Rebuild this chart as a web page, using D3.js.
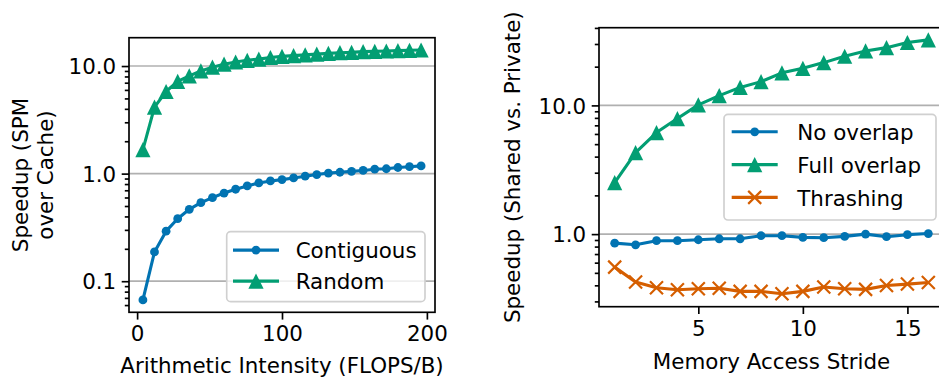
<!DOCTYPE html>
<html lang="en">

<head>
    <meta charset="UTF-8">
    <script src="https://cdn.jsdelivr.net/npm/d3@7"></script>
    <title>Speedup</title>
    <style>
        body {
            margin: 0px;
            background: #fff;
        }

        svg text {
            font-family: "DejaVu Sans", sans-serif;
            font-size: 21.4px;
            fill: #000;
        }
    </style>
</head>

<body>
    <svg id="chart" width="939" height="379"></svg>
    <script>
        // left panel: speedup vs arithmetic intensity
        const intensity = [4, 12, 20, 28, 36, 44, 52, 60, 68, 76, 84, 92, 100, 108, 116, 124, 132, 140, 148, 156, 164, 172, 180, 188, 196];
        const contiguous = [0.067, 0.187, 0.292, 0.381, 0.466, 0.537, 0.598, 0.660, 0.716, 0.768, 0.819, 0.855, 0.88, 0.912, 0.946, 0.98, 1.01, 1.03, 1.05, 1.07, 1.10, 1.11, 1.14, 1.16, 1.18];
        const random = [1.67, 4.15, 5.8, 7.2, 8.1, 9.0, 9.75, 10.4, 10.9, 11.3, 11.6, 12.0, 12.3, 12.5, 12.7, 12.9, 13.1, 13.3, 13.4, 13.6, 13.7, 13.8, 13.9, 14.0, 14.1];
        const leftXTicks = [0, 100, 200];
        const leftYTicks = [0.1, 1, 10];

        // right panel: speedup vs stride
        const stride = [1, 2, 3, 4, 5, 6, 7, 8, 9, 10, 11, 12, 13, 14, 15, 16];
        const noOverlap = [0.851, 0.826, 0.889, 0.889, 0.904, 0.92, 0.92, 0.972, 0.972, 0.943, 0.938, 0.96, 1.0, 0.955, 0.99, 1.01];
        const fullOverlap = [2.51, 4.3, 6.15, 7.9, 10.1, 11.9, 13.8, 15.3, 17.9, 19.4, 21.5, 24.1, 26.5, 28.1, 30.8, 32.3];
        const thrashing = [0.554, 0.424, 0.383, 0.370, 0.376, 0.38, 0.359, 0.359, 0.344, 0.359, 0.388, 0.376, 0.372, 0.399, 0.409, 0.421];
        const rightXTicks = [5, 10, 15];
        const rightYTicks = [1, 10];

        const BLUE = '#0173b2', GREEN = '#029e73', ORANGE = '#d55e00';
        const FONT = '21.4px';
        const svg = d3.select('#chart');

        function minorTicks (domain) {
            let out = [];
            for (let e = -3; e <= 3; e++) {
                for (let m = 2; m <= 9; m++) {
                    let v = m * Math.pow(10, e);
                    if (v >= domain[0] && v <= domain[1]) out.push(v);
                }
            }
            return out;
        }

        function drawMarker (g, type, color, x, y) {
            if (type == 'circle') {
                g.append('circle').attr('cx', x).attr('cy', y).attr('r', 4.4).attr('fill', color);
            } else if (type == 'triangle') {
                g.append('path')
                    .attr('d', `M${x} ${y - 7.6}L${x - 7.6} ${y + 7.6}L${x + 7.6} ${y + 7.6}Z`)
                    .attr('fill', color);
            } else {
                let s = 6.5;
                g.append('path')
                    .attr('d', `M${x - s} ${y - s}L${x + s} ${y + s}M${x - s} ${y + s}L${x + s} ${y - s}`)
                    .attr('stroke', color)
                    .attr('stroke-width', 2.2)
                    .attr('fill', 'none');
            }
        }

        function drawPanel (p) {
            let g = svg.append('g');
            let xScale = d3.scaleLinear(p.xDomain, [p.left, p.right]);
            let yScale = d3.scaleLog(p.yDomain, [p.bottom, p.top]);

            // clip so the right panel gets cut by the window edge like the original
            let clipId = 'clip_' + p.id;
            g.append('clipPath').attr('id', clipId)
                .append('rect')
                .attr('x', p.left).attr('y', p.top)
                .attr('width', p.right - p.left).attr('height', p.bottom - p.top);

            // grid
            g.selectAll('.grid')
                .data(p.yTicks)
                .enter()
                .append('line')
                .attr('x1', p.left).attr('x2', p.right)
                .attr('y1', d => yScale(d)).attr('y2', d => yScale(d))
                .attr('stroke', '#b0b0b0')
                .attr('stroke-width', 1.67);

            // series
            let plot = g.append('g').attr('clip-path', `url(#${clipId})`);
            for (let s of p.series) {
                let line = d3.line().x((d, i) => xScale(p.x[i])).y(d => yScale(d));
                plot.append('path')
                    .attr('d', line(s.values))
                    .attr('stroke', s.color)
                    .attr('stroke-width', 3.1)
                    .attr('stroke-linejoin', 'round')
                    .attr('fill', 'none');
                s.values.forEach((v, i) => drawMarker(plot, s.marker, s.color, xScale(p.x[i]), yScale(v)));
            }

            // axes
            let yMajor = d3.axisLeft(yScale).tickValues(p.yTicks).tickSize(7.3).tickPadding(5.5)
                .tickFormat(d3.format('.1f'));
            let yMinor = d3.axisLeft(yScale).tickValues(minorTicks(p.yDomain)).tickSize(4.2).tickFormat('');
            let xMajor = d3.axisBottom(xScale).tickValues(p.xTicks).tickSize(7.3).tickPadding(5);

            let ya = g.append('g').attr('transform', `translate(${p.left},0)`).call(yMajor);
            let ym = g.append('g').attr('transform', `translate(${p.left},0)`).call(yMinor);
            let xa = g.append('g').attr('transform', `translate(0,${p.bottom})`).call(xMajor);
            for (let a of [ya, ym, xa]) {
                a.select('.domain').remove();
                a.selectAll('line').attr('stroke', '#000').attr('stroke-width', 1.67);
                a.selectAll('text').attr('fill', '#000').style('font-size', FONT)
                    .style('font-family', '"DejaVu Sans", sans-serif');
            }
            ya.selectAll('text').attr('dy', '0.36em');
            xa.selectAll('text').attr('dy', '0.78em');

            // frame
            g.append('rect')
                .attr('x', p.left).attr('y', p.top)
                .attr('width', p.right - p.left).attr('height', p.bottom - p.top)
                .attr('fill', 'none')
                .attr('stroke', '#000')
                .attr('stroke-width', 1.67);

            // axis titles
            g.append('text')
                .attr('x', (p.left + p.right) / 2)
                .attr('y', p.xLabelY)
                .attr('text-anchor', 'middle')
                .text(p.xLabel);
            p.yLabel.forEach((t, i) => {
                g.append('text')
                    .attr('transform', `translate(${p.yLabelX[i]},${(p.top + p.bottom) / 2}) rotate(-90)`)
                    .attr('text-anchor', 'middle')
                    .text(t);
            });

            // legend
            let L = p.legend;
            g.append('rect')
                .attr('x', L.x).attr('y', L.y)
                .attr('width', L.w).attr('height', L.h)
                .attr('rx', 4)
                .attr('fill', '#fff').attr('fill-opacity', 0.8)
                .attr('stroke', '#d0d0d0').attr('stroke-width', 1.67);
            p.series.forEach((s, i) => {
                let base = L.firstBase + i * L.step;
                let ly = base - 8.2;
                g.append('line')
                    .attr('x1', L.hx).attr('x2', L.hx + 46)
                    .attr('y1', ly).attr('y2', ly)
                    .attr('stroke', s.color).attr('stroke-width', 3.1);
                drawMarker(g, s.marker, s.color, L.hx + 23, ly);
                g.append('text').attr('x', L.tx).attr('y', base).text(s.name);
            });
        }

        drawPanel({
            id: 'left',
            left: 129, right: 435, top: 37.7, bottom: 312.3,
            xDomain: [-5.6, 205.6], yDomain: [0.0514, 18.34],
            x: intensity, xTicks: leftXTicks, yTicks: leftYTicks,
            series: [
                { name: 'Contiguous', values: contiguous, color: BLUE, marker: 'circle' },
                { name: 'Random', values: random, color: GREEN, marker: 'triangle' }
            ],
            xLabel: 'Arithmetic Intensity (FLOPS/B)', xLabelY: 372.7,
            yLabel: ['Speedup (SPM', 'over Cache)'], yLabelX: [28, 53],
            legend: { x: 226.7, y: 231.7, w: 198.3, h: 70, hx: 233, tx: 295.7, firstBase: 258.3, step: 31 }
        });

        drawPanel({
            id: 'right',
            left: 599, right: 944, top: 27.7, bottom: 306.7,
            xDomain: [0.25, 16.75], yDomain: [0.2729, 40.15],
            x: stride, xTicks: rightXTicks, yTicks: rightYTicks,
            series: [
                { name: 'No overlap', values: noOverlap, color: BLUE, marker: 'circle' },
                { name: 'Full overlap', values: fullOverlap, color: GREEN, marker: 'triangle' },
                { name: 'Thrashing', values: thrashing, color: ORANGE, marker: 'x' }
            ],
            xLabel: 'Memory Access Stride', xLabelY: 369.3,
            yLabel: ['Speedup (Shared vs. Private)'], yLabelX: [520],
            legend: { x: 724, y: 114.3, w: 212, h: 105.7, hx: 731.7, tx: 797.3, firstBase: 140, step: 32.8 }
        });
    </script>
</body>

</html>
